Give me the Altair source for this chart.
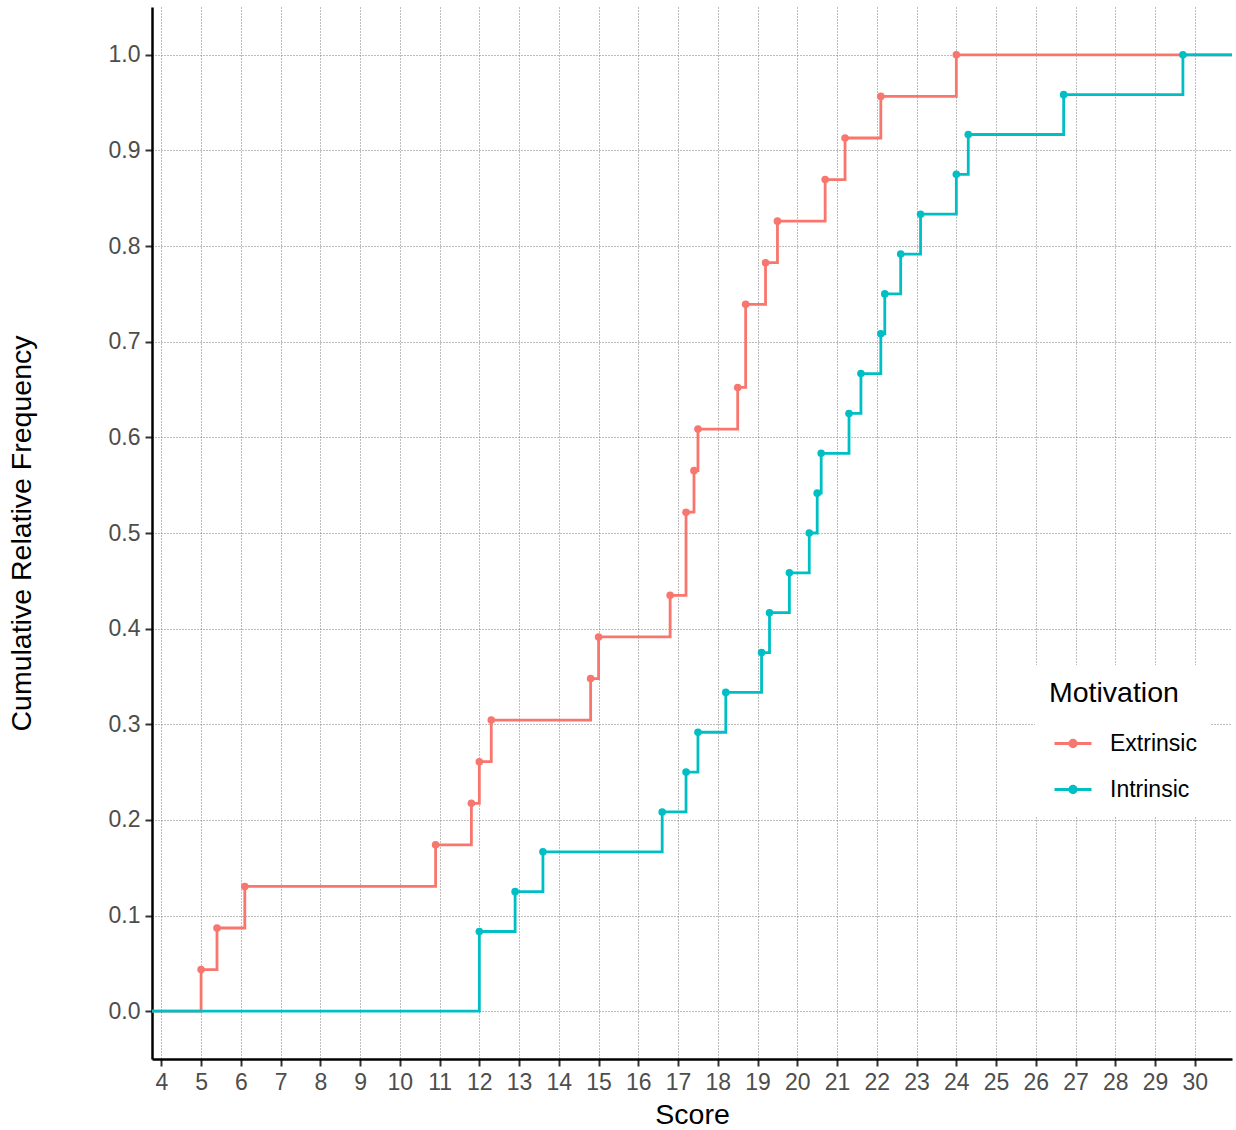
import altair as alt
import pandas as pd

# Scores by motivation group (read from the ECDF steps)
extrinsic = [5.0, 5.4, 6.1, 10.9, 11.8, 12.0, 12.3, 14.8, 15.0, 16.8, 17.2, 17.2,
             17.4, 17.5, 18.5, 18.7, 18.7, 19.2, 19.5, 20.7, 21.2, 22.1, 24.0]
intrinsic = [12.0, 12.0, 12.9, 13.6, 16.6, 17.2, 17.5, 18.2, 19.1, 19.3, 19.8, 20.3,
             20.5, 20.6, 21.3, 21.6, 22.1, 22.2, 22.6, 23.1, 24.0, 24.3, 26.7, 29.7]
groups = ["Extrinsic", "Intrinsic"]
colors = ["#F8766D", "#00BFC4"]
x_ticks = list(range(4, 31))
y_ticks = [0.0, 0.1, 0.2, 0.3, 0.4, 0.5, 0.6, 0.7, 0.8, 0.9, 1.0]

FONT = "Liberation Sans"

# ggplot-style 5% expansion of the data range; ECDF padded to -Inf / +Inf
all_vals = extrinsic + intrinsic
lo, hi = min(all_vals), max(all_vals)
ex = 0.05 * (hi - lo)
xmin, xmax = lo - ex, hi + ex

rows = []
for g, vals in zip(groups, [extrinsic, intrinsic]):
    n = len(vals)
    s = sorted(vals)
    rows.append(dict(group=g, score=xmin, F=0.0, pad=True, idx=0))
    uniq = sorted(set(s))
    for k, u in enumerate(uniq):
        F = sum(1 for v in s if v <= u) / n
        rows.append(dict(group=g, score=u, F=F, pad=False, idx=k + 1))
    rows.append(dict(group=g, score=xmax, F=1.0, pad=True, idx=len(uniq) + 1))
df = pd.DataFrame(rows)

# legend key: a horizontal line with a dot drawn by concentric rings (stroke only)
rings = "".join(
    f"M-{r},0A{r},{r},0,1,0,{r},0A{r},{r},0,1,0,-{r},0"
    for r in (0.17, 0.12, 0.07, 0.03)
)
legend_path = "M-1,0H1" + rings

legend = alt.Legend(
    title="Motivation", orient="none", legendX=883, legendY=658,
    fillColor="white", padding=14,
    titleFont=FONT, titleFontSize=28.5, titleFontWeight="normal", titleColor="black",
    labelFont=FONT, labelFontSize=23, labelColor="black",
    symbolType=legend_path, symbolSize=1369, symbolStrokeWidth=3,
    symbolOpacity=1,
    symbolOffset=4, labelOffset=17, rowPadding=14, titlePadding=16,
)

color = alt.Color("group:N", scale=alt.Scale(domain=groups, range=colors), legend=legend)

x = alt.X("score:Q",
          scale=alt.Scale(domain=[xmin, xmax], nice=False, zero=False),
          axis=alt.Axis(title="Score", values=x_ticks, format="d",
                        titlePadding=6, labelPadding=5))
y = alt.Y("F:Q",
          scale=alt.Scale(domain=[-0.05, 1.05], nice=False, zero=False),
          axis=alt.Axis(title="Cumulative Relative Frequency", values=y_ticks,
                        format=".1f", labelPadding=5, titleX=-116))

base = alt.Chart(df)

lines = base.mark_line(interpolate="step-after", strokeWidth=2.8).encode(
    x=x, y=y, color=color, order=alt.Order("idx:Q"))

points = base.transform_filter("!datum.pad").mark_circle(size=58, opacity=1).encode(
    x=x, y=y, color=color)

chart = alt.layer(lines, points).properties(
    width=1080, height=1052,
    autosize=alt.AutoSizeParams(type="none"),
    padding={"left": 152, "top": 7, "right": 4, "bottom": 71},
    background="white",
).configure_view(stroke="transparent").configure_axis(
    labelFont=FONT, titleFont=FONT,
    labelFontSize=23, titleFontSize=28.5, titleFontWeight="normal",
    labelColor="#4D4D4D", titleColor="black",
    domainColor="black", domainWidth=2.5,
    tickColor="#333333", tickWidth=2, tickSize=7,
    grid=True, gridColor="#7a7a7a", gridDash=[1, 2], gridWidth=1,
)

chart.save("out.html", embed_options={"renderer": "svg", "actions": False})
